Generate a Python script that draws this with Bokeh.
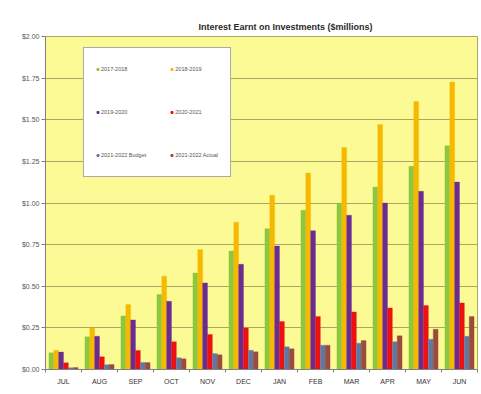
from bokeh.plotting import figure
from bokeh.models import (ColumnDataSource, FixedTicker, PrintfTickFormatter,
                          Legend, LegendItem, BoxAnnotation, Range1d)
from bokeh.embed import file_html
from bokeh.resources import INLINE

months = ["JUL", "AUG", "SEP", "OCT", "NOV", "DEC", "JAN", "FEB", "MAR", "APR", "MAY", "JUN"]
fy_2017_2018 = [0.100, 0.196, 0.322, 0.450, 0.580, 0.712, 0.846, 0.956, 1.000, 1.096, 1.220, 1.344]
fy_2018_2019 = [0.115, 0.250, 0.390, 0.560, 0.720, 0.884, 1.046, 1.180, 1.333, 1.472, 1.610, 1.726]
fy_2019_2020 = [0.105, 0.200, 0.298, 0.410, 0.520, 0.632, 0.742, 0.834, 0.926, 1.000, 1.070, 1.126]
fy_2020_2021 = [0.040, 0.076, 0.114, 0.166, 0.210, 0.250, 0.288, 0.318, 0.346, 0.370, 0.384, 0.400]
fy_2021_2022_budget = [0.010, 0.028, 0.042, 0.070, 0.096, 0.116, 0.136, 0.146, 0.158, 0.166, 0.182, 0.200]
fy_2021_2022_actual = [0.012, 0.030, 0.042, 0.064, 0.088, 0.106, 0.124, 0.146, 0.174, 0.202, 0.242, 0.318]
series_names = ["2017-2018", "2018-2019", "2019-2020", "2020-2021", "2021-2022 Budget", "2021-2022 Actual"]
series_values = [fy_2017_2018, fy_2018_2019, fy_2019_2020, fy_2020_2021, fy_2021_2022_budget, fy_2021_2022_actual]
colors = ["#8DC63F", "#F7B900", "#6A2C91", "#EE1111", "#5E79A6", "#9C4A3C"]
y_ticks = [0.0, 0.25, 0.5, 0.75, 1.0, 1.25, 1.5, 1.75, 2.0]

FONT = "Liberation Sans"

p = figure(width=481, height=394, output_backend="svg", toolbar_location=None,
           x_range=Range1d(-0.5, len(months) - 0.5), y_range=Range1d(0, 2.0),
           min_border_left=45, min_border_right=4, min_border_top=36, min_border_bottom=25,
           background_fill_color="#FBFA94", border_fill_color="white")

p.title.text = "Interest Earnt on Investments ($millions)"
p.title.text_font = FONT
p.title.text_font_size = "9px"
p.title.text_font_style = "bold"
p.title.text_color = "#2a2a2a"
p.title.align = "left"
p.title.offset = 153
p.title.standoff = 10

idx = list(range(len(months)))
bw = 0.135
legend_renderers = []
for k, (name, vals, c) in enumerate(zip(series_names, series_values, colors)):
    src = ColumnDataSource(dict(x=[i + (k - 2.5) * bw for i in idx], top=vals))
    p.vbar(x="x", top="top", width=bw, bottom=0, source=src, fill_color=c, line_color=c, line_width=0.3)
    # hidden marker renderer on the same data, used only for the legend swatch
    r = p.scatter(x="x", y="top", source=src, marker="square", size=3,
                  fill_color=c, line_color=c, visible=False)
    legend_renderers.append(r)

items = [LegendItem(label=n, renderers=[r]) for n, r in zip(series_names, legend_renderers)]
# column-major fill: col1 = 2017-18, 2019-20, Budget ; col2 = 2018-19, 2020-21, Actual
order = [0, 2, 4, 1, 3, 5]
legend = Legend(items=[items[i] for i in order], ncols=2, location=(38, 192),
                padding=11, spacing=23, margin=0,
                glyph_width=5, glyph_height=20, label_standoff=1,
                label_width=44, label_height=20,
                label_text_font=FONT, label_text_font_size="5.5px", label_text_color="#555",
                background_fill_color="white", background_fill_alpha=1.0,
                border_line_color="#555", border_line_width=1,
                inactive_fill_alpha=0.0)
p.add_layout(legend)

# axes
p.yaxis.ticker = FixedTicker(ticks=y_ticks)
p.yaxis.formatter = PrintfTickFormatter(format="$%.2f")
p.yaxis.major_label_text_font = FONT
p.yaxis.major_label_text_font_size = "7px"
p.yaxis.major_label_text_color = "#555"
p.yaxis.axis_line_color = "#808080"
p.yaxis.major_tick_line_color = "#808080"
p.yaxis.major_tick_out = 4
p.yaxis.major_tick_in = 0
p.yaxis.minor_tick_line_color = None
p.yaxis.major_label_standoff = 2

p.xaxis.ticker = FixedTicker(ticks=idx, minor_ticks=[i - 0.5 for i in range(len(months) + 1)])
p.xaxis.major_label_overrides = {i: m for i, m in enumerate(months)}
p.xaxis.major_label_text_font = FONT
p.xaxis.major_label_text_font_size = "7px"
p.xaxis.major_label_text_color = "#333"
p.xaxis.axis_line_color = "#808080"
p.xaxis.major_tick_line_color = None
p.xaxis.minor_tick_line_color = "#808080"
p.xaxis.minor_tick_out = 3
p.xaxis.minor_tick_in = 0
p.xaxis.major_label_standoff = 2

p.xgrid.grid_line_color = None
p.ygrid.grid_line_color = "#A8A860"
p.ygrid.grid_line_width = 1
p.outline_line_color = "#A8A860"

frame_box = BoxAnnotation(left=11, right=520, top=5, bottom=387,
                          left_units="canvas", right_units="canvas",
                          top_units="canvas", bottom_units="canvas",
                          fill_alpha=0, line_color="#9a9a9a", line_width=2)
p.add_layout(frame_box)

open("out.html", "w").write(file_html(p, INLINE))
